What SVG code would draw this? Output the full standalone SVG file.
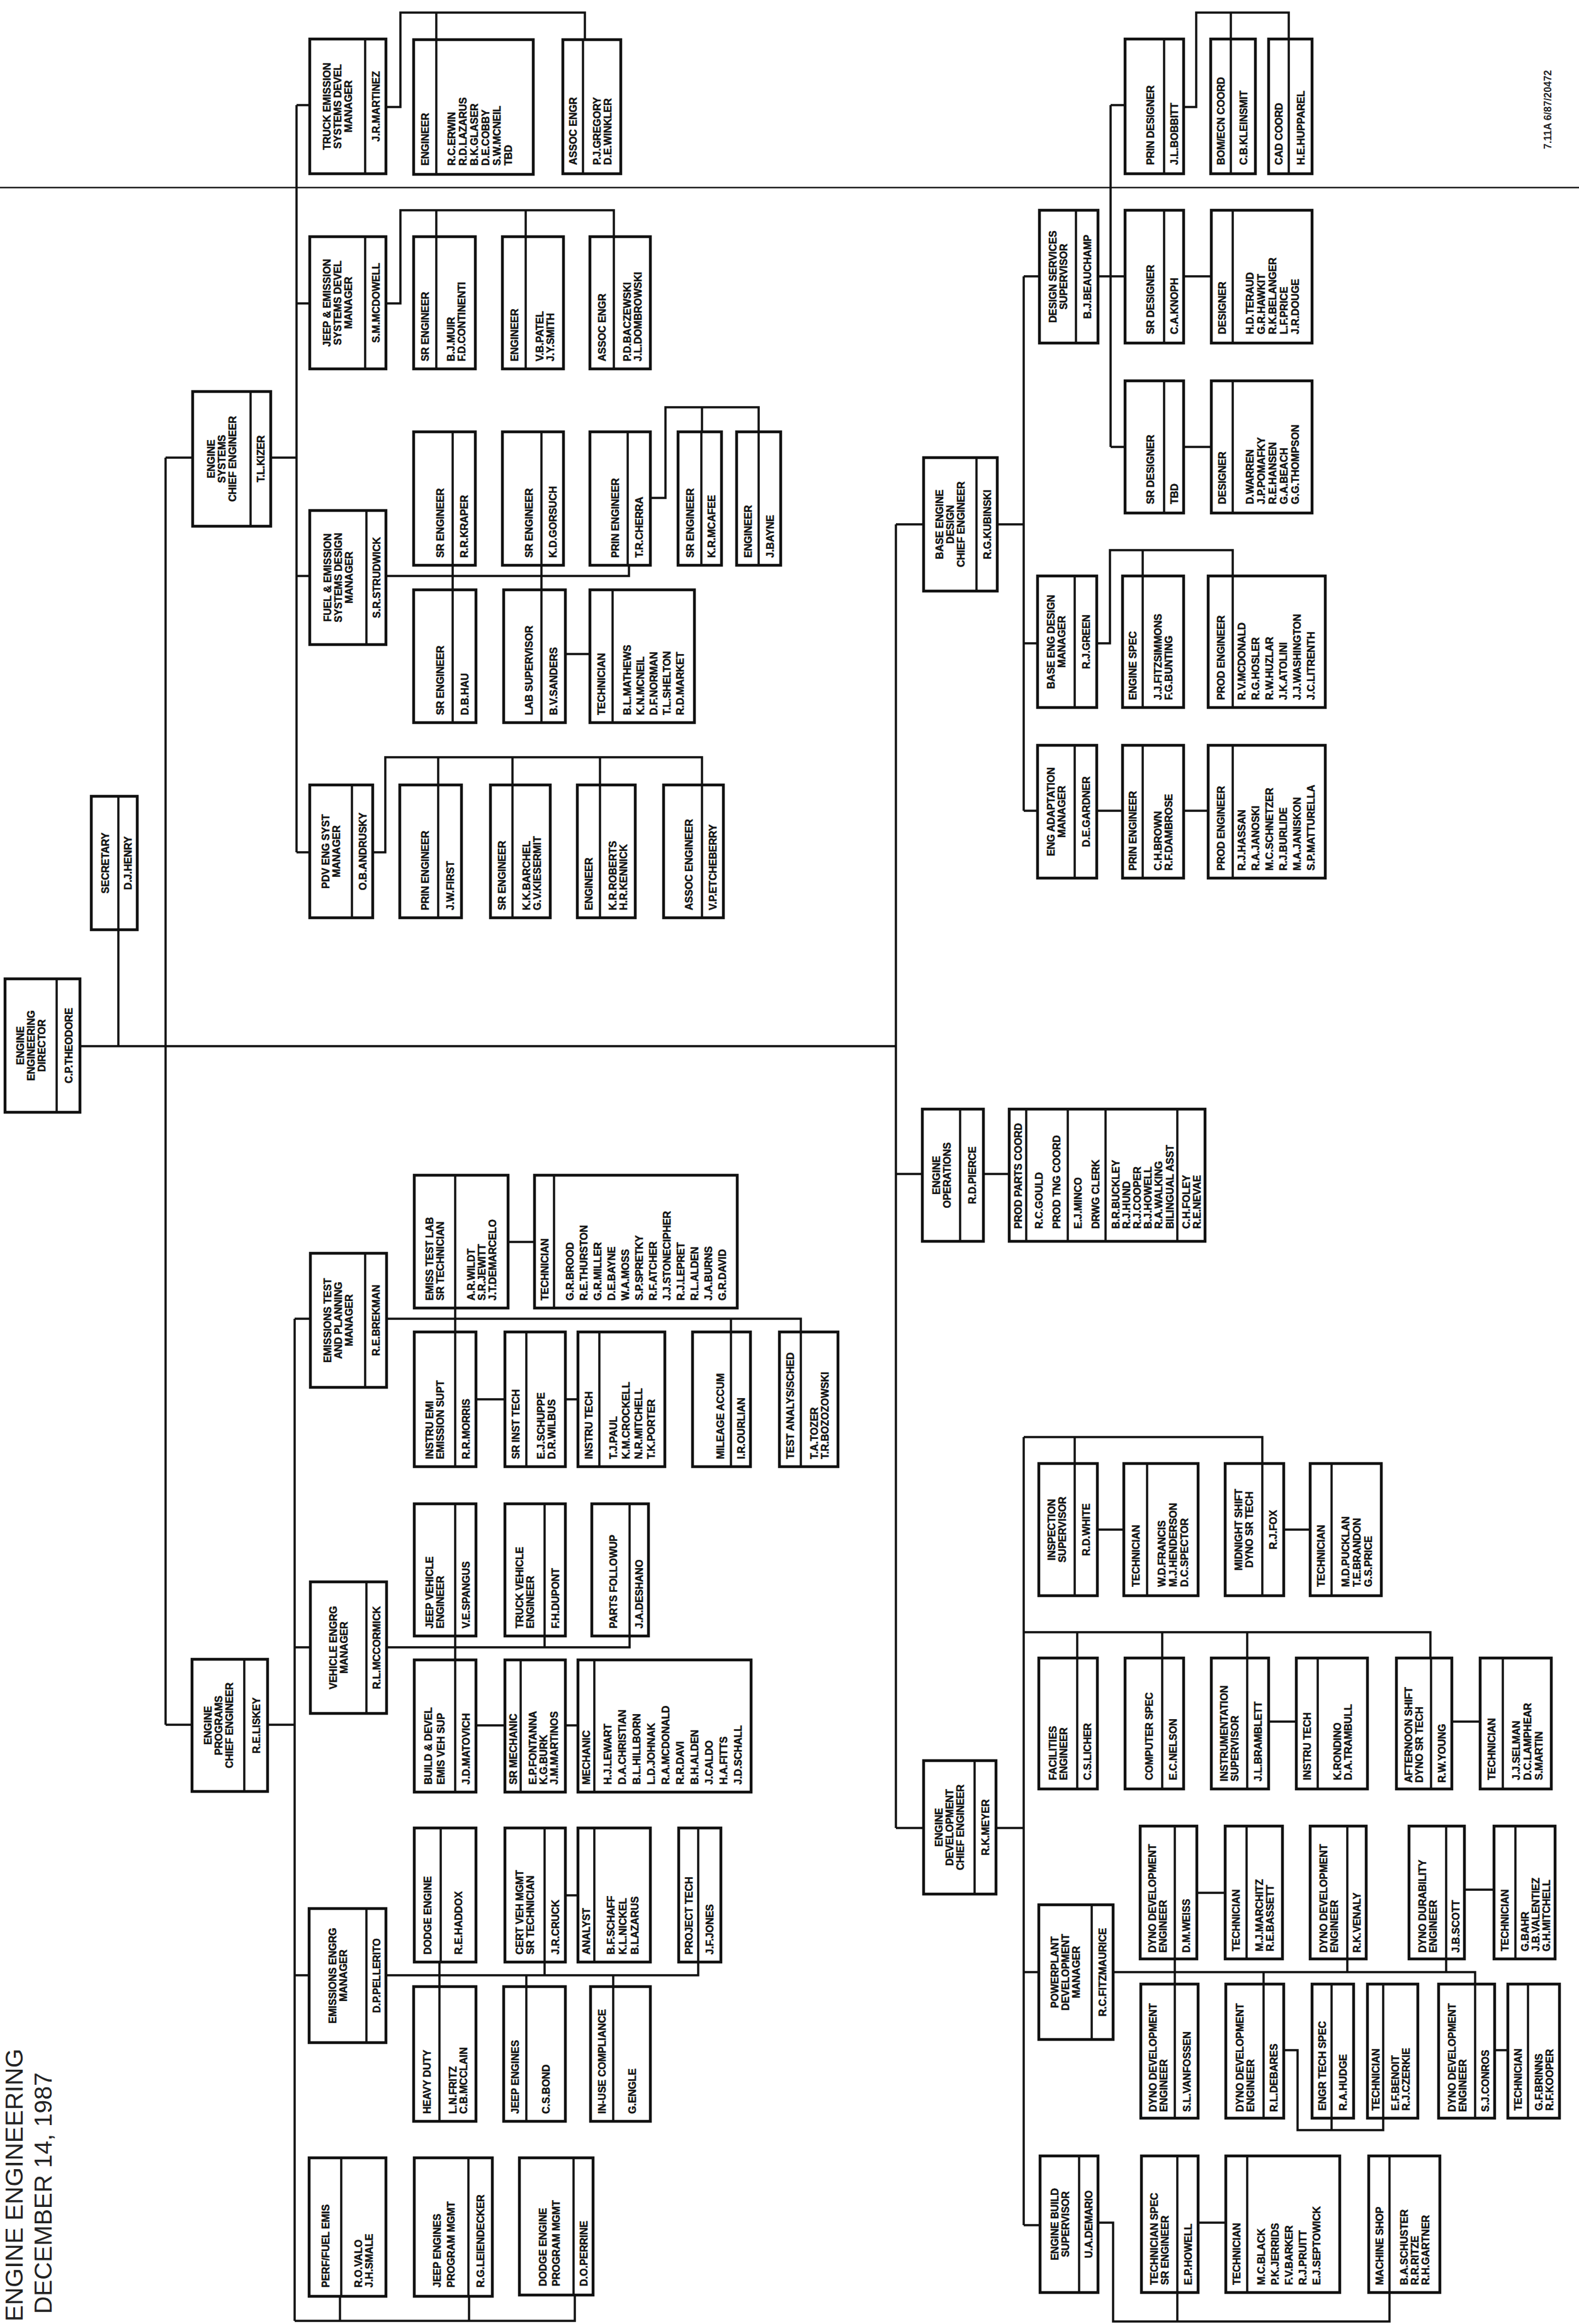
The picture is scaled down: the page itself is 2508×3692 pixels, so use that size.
<svg xmlns="http://www.w3.org/2000/svg" width="2508" height="3692" viewBox="0 0 2508 3692">
<style>
.n rect{fill:none;stroke:#111;stroke-width:4.5}
.n line{stroke:#111;stroke-width:3.5}
.n text{font-family:'Liberation Sans',Arial,sans-serif;font-weight:bold;font-size:16px;fill:#111;stroke:#111;stroke-width:0.5}
.c{text-anchor:middle}
#connectors path{fill:none;stroke:#111;stroke-width:3.5}
.hdr{font-family:'Liberation Sans',Arial,sans-serif;font-size:39px;fill:#222}
.code{font-family:'Liberation Sans',Arial,sans-serif;font-weight:bold;font-size:16px;fill:#222}
</style>
<rect width="2508" height="3692" fill="#fff"/>
<g id="crease"><path d="M0,298H2508" stroke="#222" stroke-width="2.5" fill="none"/></g>
<text class="hdr" transform="translate(36,3688) rotate(-90)">ENGINE ENGINEERING</text>
<text class="hdr" transform="translate(82,3676) rotate(-90)">DECEMBER 14, 1987</text>
<text class="code" transform="translate(2464,237) rotate(-90)">7.11A 6/87/20472</text>

<g id="connectors">
<path d="M127,1662H1423 M188,1477V1662 M263,727V2740 M263,727H306 M263,2740H305"/>
<path d="M430,727H471 M471,167V1354 M471,167H492 M471,482H492 M471,915H492 M471,1354H492"/>
<path d="M613,170H636V20H929V63 M693,20V63"/>
<path d="M613,482H636V334H975V376 M693,334V376 M835,334V376"/>
<path d="M613,915H999V898 M719,898V937 M860,898V937 M898,1039H937"/>
<path d="M1033,791H1057V647H1205V686 M1115,647V686"/>
<path d="M592,1354H612V1203H1115V1247 M696,1203V1247 M814,1203V1247 M953,1203V1247"/>
<path d="M1423,833V2904 M1423,833H1467 M1423,1865H1465 M1423,2904H1467"/>
<path d="M1584,833H1626 M1626,439V1288 M1626,439H1651 M1626,1022H1648 M1626,1288H1648"/>
<path d="M1744,439H1787 M1764,167V710 M1764,167H1787 M1764,710H1787"/>
<path d="M1880,170H1900V20H2047V62 M1955,20V62 M1880,439H1924 M1880,710H1924"/>
<path d="M1742,1022H1763V874H1958V915 M1815,874V915 M1742,1288H1783 M1880,1288H1919"/>
<path d="M1562,1865H1603"/>
<path d="M1582,2904H1626 M1626,2283V3535 M1626,2283H2005V2325 M1707,2283V2325"/>
<path d="M1626,2593H2272V2634 M1711,2593V2634 M1846,2593V2634 M1981,2593V2634"/>
<path d="M1626,3133H1650 M1626,3535H1652"/>
<path d="M1743,2430H1785 M2039,2430H2081 M2015,2735H2059 M2306,2735H2351"/>
<path d="M1768,3133H2343V3152 M1866,3112V3152 M2140,3112V3133 M2297,3112V3133 M2007,3133V3152"/>
<path d="M1901,3007H1946 M2326,3002H2373"/>
<path d="M2039,3257H2061V3384H2197V3365 M2115,3384V3365 M2374,3257H2395"/>
<path d="M1744,3531H1768V3688H2207V3642 M1870,3688V3642 M1903,3531H1947"/>
<path d="M425,2740H468 M468,2095V3687 M468,2095H493 M468,2617H493 M468,3138H491 M468,3687H913V3646 M540,3687V3648 M745,3687V3648"/>
<path d="M614,2095H1272V2116 M723,2078V2116 M1161,2095V2116 M807,1973H849 M756,2223H802 M898,2223H918"/>
<path d="M614,2617H1000V2599 M723,2599V2637 M865,2617V2599 M756,2741H802 M898,2741H918"/>
<path d="M613,3138H1109V3117 M698,3117V3156 M865,3138V3117 M836,3138V3156 M974,3138V3156 M898,3011H918"/>
</g>

<g id="director" class="n" transform="translate(8,1767) rotate(-90)"><rect width="212" height="119"/><line x2="212" y1="82" y2="82"/>
<text class="c" x="106" y="30">ENGINE</text><text class="c" x="106" y="47">ENGINEERING</text><text class="c" x="106" y="64">DIRECTOR</text><text class="c" x="106" y="106.5">C.P.THEODORE</text></g>
<g id="secretary" class="n" transform="translate(145,1477) rotate(-90)"><rect width="212" height="73"/><line x2="212" y1="43" y2="43"/>
<text class="c" x="106" y="27.5">SECRETARY</text><text class="c" x="106" y="64">D.J.HENRY</text></g>
<g id="eng-systems" class="n" transform="translate(306,836) rotate(-90)"><rect width="214" height="124"/><line x2="214" y1="92" y2="92"/>
<text class="c" x="107" y="35">ENGINE</text><text class="c" x="107" y="52">SYSTEMS</text><text class="c" x="107" y="69">CHIEF ENGINEER</text><text class="c" x="107" y="114">T.L.KIZER</text></g>
<g id="truck-mgr" class="n" transform="translate(492,276) rotate(-90)"><rect width="214" height="121"/><line x2="214" y1="88" y2="88"/>
<text class="c" x="107" y="33">TRUCK EMISSION</text><text class="c" x="107" y="50">SYSTEMS DEVEL</text><text class="c" x="107" y="67">MANAGER</text><text class="c" x="107" y="110.5">J.R.MARTINEZ</text></g>
<g id="truck-eng" class="n" transform="translate(657,277) rotate(-90)"><rect width="214" height="190"/><line x2="214" y1="36" y2="36"/>
<text x="14" y="24">ENGINEER</text><text x="14" y="66">R.C.ERWIN</text><text x="14" y="84">R.D.LAZARUS</text><text x="14" y="102">B.K.GLASER</text><text x="14" y="120">D.E.COBBY</text><text x="14" y="138">S.W.MCNEIL</text><text x="14" y="156">TBD</text></g>
<g id="truck-assoc" class="n" transform="translate(894,276) rotate(-90)"><rect width="213" height="92"/><line x2="213" y1="32" y2="32"/>
<text x="14" y="22">ASSOC ENGR</text><text x="14" y="59.5">P.J.GREGORY</text><text x="14" y="76.5">D.E.WINKLER</text></g>
<g id="jeep-mgr" class="n" transform="translate(492,586) rotate(-90)"><rect width="210" height="121"/><line x2="210" y1="88" y2="88"/>
<text class="c" x="105" y="33">JEEP &amp; EMISSION</text><text class="c" x="105" y="50">SYSTEMS DEVEL</text><text class="c" x="105" y="67">MANAGER</text><text class="c" x="105" y="110.5">S.M.MCDOWELL</text></g>
<g id="jeep-sreng" class="n" transform="translate(657,586) rotate(-90)"><rect width="210" height="98"/><line x2="210" y1="36" y2="36"/>
<text x="12" y="24">SR ENGINEER</text><text x="12" y="64.5">B.J.MUIR</text><text x="12" y="81.5">F.D.CONTINENTI</text></g>
<g id="jeep-eng" class="n" transform="translate(798,586) rotate(-90)"><rect width="210" height="97"/><line x2="210" y1="37" y2="37"/>
<text x="12" y="24.5">ENGINEER</text><text x="12" y="64.5">V.B.PATEL</text><text x="12" y="81.5">J.Y.SMITH</text></g>
<g id="jeep-assoc" class="n" transform="translate(937,586) rotate(-90)"><rect width="210" height="96"/><line x2="210" y1="38" y2="38"/>
<text x="12" y="25">ASSOC ENGR</text><text x="12" y="64.5">P.D.BACZEWSKI</text><text x="12" y="81.5">J.L.DOMBROWSKI</text></g>
<g id="fuel-sr1" class="n" transform="translate(657,898) rotate(-90)"><rect width="212" height="98"/><line x2="212" y1="62" y2="62"/>
<text x="12" y="48">SR ENGINEER</text><text x="12" y="86">R.R.KRAPER</text></g>
<g id="fuel-sr2" class="n" transform="translate(798,898) rotate(-90)"><rect width="212" height="97"/><line x2="212" y1="62" y2="62"/>
<text x="12" y="48">SR ENGINEER</text><text x="12" y="85.5">K.D.GORSUCH</text></g>
<g id="fuel-prin" class="n" transform="translate(937,898) rotate(-90)"><rect width="212" height="96"/><line x2="212" y1="60" y2="60"/>
<text x="12" y="46">PRIN ENGINEER</text><text x="12" y="84">T.R.CHERRA</text></g>
<g id="fuel-sr3" class="n" transform="translate(1077,898) rotate(-90)"><rect width="212" height="69"/><line x2="212" y1="37" y2="37"/>
<text x="12" y="24.5">SR ENGINEER</text><text x="12" y="59">K.R.MCAFEE</text></g>
<g id="fuel-eng" class="n" transform="translate(1170,898) rotate(-90)"><rect width="212" height="70"/><line x2="212" y1="35" y2="35"/>
<text x="12" y="23.5">ENGINEER</text><text x="12" y="58.5">J.BAYNE</text></g>
<g id="fuel-mgr" class="n" transform="translate(492,1024) rotate(-90)"><rect width="213" height="121"/><line x2="213" y1="90" y2="90"/>
<text class="c" x="106.5" y="34">FUEL &amp; EMISSION</text><text class="c" x="106.5" y="51">SYSTEMS DESIGN</text><text class="c" x="106.5" y="68">MANAGER</text><text class="c" x="106.5" y="111.5">S.R.STRUDWICK</text></g>
<g id="fuel-sr4" class="n" transform="translate(657,1148) rotate(-90)"><rect width="211" height="99"/><line x2="211" y1="62" y2="62"/>
<text x="12" y="48">SR ENGINEER</text><text x="12" y="86.5">D.B.HAU</text></g>
<g id="fuel-lab" class="n" transform="translate(800,1148) rotate(-90)"><rect width="211" height="98"/><line x2="211" y1="60" y2="60"/>
<text x="12" y="46">LAB SUPERVISOR</text><text x="12" y="85">B.V.SANDERS</text></g>
<g id="fuel-tech" class="n" transform="translate(937,1148) rotate(-90)"><rect width="211" height="166"/><line x2="211" y1="36" y2="36"/>
<text x="12" y="24">TECHNICIAN</text><text x="12" y="65">B.L.MATHEWS</text><text x="12" y="86">K.N.MCNEIL</text><text x="12" y="107">D.F.NORMAN</text><text x="12" y="128">T.L.SHELTON</text><text x="12" y="149">R.D.MARKET</text></g>
<g id="pdv-mgr" class="n" transform="translate(492,1458) rotate(-90)"><rect width="211" height="100"/><line x2="211" y1="67" y2="67"/>
<text class="c" x="105.5" y="31">PDV ENG SYST</text><text class="c" x="105.5" y="48">MANAGER</text><text class="c" x="105.5" y="89.5">O.B.ANDRUSKY</text></g>
<g id="pdv-prin" class="n" transform="translate(635,1458) rotate(-90)"><rect width="211" height="98"/><line x2="211" y1="61" y2="61"/>
<text x="12" y="46">PRIN ENGINEER</text><text x="12" y="85.5">J.W.FIRST</text></g>
<g id="pdv-sr" class="n" transform="translate(779,1458) rotate(-90)"><rect width="211" height="95"/><line x2="211" y1="35" y2="35"/>
<text x="12" y="23.5">SR ENGINEER</text><text x="12" y="62.5">K.K.BARCHEL</text><text x="12" y="79.5">G.V.KIESERMIT</text></g>
<g id="pdv-eng" class="n" transform="translate(917,1458) rotate(-90)"><rect width="211" height="92"/><line x2="211" y1="36" y2="36"/>
<text x="12" y="24">ENGINEER</text><text x="12" y="61.5">K.R.ROBERTS</text><text x="12" y="78.5">H.R.KENNICK</text></g>
<g id="pdv-assoc" class="n" transform="translate(1054,1458) rotate(-90)"><rect width="211" height="95"/><line x2="211" y1="61" y2="61"/>
<text x="12" y="46">ASSOC ENGINEER</text><text x="12" y="84">V.P.ETCHEBERRY</text></g>

<g id="bed-chief" class="n" transform="translate(1467,939) rotate(-90)"><rect width="212" height="117"/><line x2="212" y1="84" y2="84"/>
<text class="c" x="106" y="31">BASE ENGINE</text><text class="c" x="106" y="48">DESIGN</text><text class="c" x="106" y="65">CHIEF ENGINEER</text><text class="c" x="106" y="106.5">R.G.KUBINSKI</text></g>
<g id="ds-sup" class="n" transform="translate(1651,545) rotate(-90)"><rect width="211" height="93"/><line x2="211" y1="58" y2="58"/>
<text class="c" x="105.5" y="26.5">DESIGN SERVICES</text><text class="c" x="105.5" y="43.5">SUPERVISOR</text><text class="c" x="105.5" y="81.5">B.J.BEAUCHAMP</text></g>
<g id="prin-designer" class="n" transform="translate(1787,276) rotate(-90)"><rect width="214" height="93"/><line x2="214" y1="62" y2="62"/>
<text x="14" y="46">PRIN DESIGNER</text><text x="14" y="83.5">J.L.BOBBITT</text></g>
<g id="bom-coord" class="n" transform="translate(1923,276) rotate(-90)"><rect width="214" height="71"/><line x2="214" y1="32" y2="32"/>
<text x="14" y="22">BOM/ECN COORD</text><text x="14" y="57.5">C.B.KLEINSMIT</text></g>
<g id="cad-coord" class="n" transform="translate(2015,276) rotate(-90)"><rect width="214" height="69"/><line x2="214" y1="32" y2="32"/>
<text x="14" y="22">CAD COORD</text><text x="14" y="56.5">H.E.HUPPAREL</text></g>
<g id="sr-designer1" class="n" transform="translate(1787,545) rotate(-90)"><rect width="211" height="93"/><line x2="211" y1="62" y2="62"/>
<text x="14" y="46">SR DESIGNER</text><text x="14" y="83.5">C.A.KNOPH</text></g>
<g id="designers1" class="n" transform="translate(1924,545) rotate(-90)"><rect width="211" height="160"/><line x2="211" y1="34" y2="34"/>
<text x="14" y="23">DESIGNER</text><text x="14" y="67">H.D.TERAUD</text><text x="14" y="85">G.R.HAWKIT</text><text x="14" y="103">R.K.BELANGER</text><text x="14" y="121">L.F.PRICE</text><text x="14" y="139">J.R.DOUGE</text></g>
<g id="sr-designer2" class="n" transform="translate(1787,815) rotate(-90)"><rect width="210" height="93"/><line x2="210" y1="62" y2="62"/>
<text x="14" y="46">SR DESIGNER</text><text x="14" y="83.5">TBD</text></g>
<g id="designers2" class="n" transform="translate(1924,815) rotate(-90)"><rect width="210" height="160"/><line x2="210" y1="34" y2="34"/>
<text x="14" y="23">DESIGNER</text><text x="14" y="67">D.WARREN</text><text x="14" y="85">J.P.POMAFKY</text><text x="14" y="103">R.E.HANSEN</text><text x="14" y="121">G.A.BEACH</text><text x="14" y="139">G.G.THOMPSON</text></g>
<g id="bed-mgr" class="n" transform="translate(1648,1124) rotate(-90)"><rect width="209" height="94"/><line x2="209" y1="59" y2="59"/>
<text class="c" x="104.5" y="27">BASE ENG DESIGN</text><text class="c" x="104.5" y="44">MANAGER</text><text class="c" x="104.5" y="82.5">R.J.GREEN</text></g>
<g id="eng-spec" class="n" transform="translate(1783,1124) rotate(-90)"><rect width="209" height="97"/><line x2="209" y1="32" y2="32"/>
<text x="12" y="22">ENGINE SPEC</text><text x="12" y="62">J.J.FITZSIMMONS</text><text x="12" y="79">F.G.BUNTING</text></g>
<g id="prod-eng1" class="n" transform="translate(1919,1124) rotate(-90)"><rect width="209" height="186"/><line x2="209" y1="39" y2="39"/>
<text x="12" y="25.5">PROD ENGINEER</text><text x="12" y="59">R.V.MCDONALD</text><text x="12" y="81">R.G.HOSLER</text><text x="12" y="103">R.W.HUZLAR</text><text x="12" y="125">J.K.ATOLINI</text><text x="12" y="147">J.J.WASHINGTON</text><text x="12" y="169">J.C.LITRENTH</text></g>
<g id="ea-mgr" class="n" transform="translate(1648,1395) rotate(-90)"><rect width="211" height="94"/><line x2="211" y1="59" y2="59"/>
<text class="c" x="105.5" y="27">ENG ADAPTATION</text><text class="c" x="105.5" y="44">MANAGER</text><text class="c" x="105.5" y="82.5">D.E.GARDNER</text></g>
<g id="prin-eng-ea" class="n" transform="translate(1783,1395) rotate(-90)"><rect width="211" height="97"/><line x2="211" y1="32" y2="32"/>
<text x="12" y="22">PRIN ENGINEER</text><text x="12" y="62">C.H.BROWN</text><text x="12" y="79">R.F.DAMBROSE</text></g>
<g id="prod-eng2" class="n" transform="translate(1919,1395) rotate(-90)"><rect width="211" height="186"/><line x2="211" y1="39" y2="39"/>
<text x="12" y="25.5">PROD ENGINEER</text><text x="12" y="59">R.J.HASSAN</text><text x="12" y="81">R.A.JANOSKI</text><text x="12" y="103">M.C.SCHNETZER</text><text x="12" y="125">R.J.BURLIDE</text><text x="12" y="147">M.A.JANISKON</text><text x="12" y="169">S.P.MATTURELLA</text></g>

<g id="eng-ops" class="n" transform="translate(1465,1972) rotate(-90)"><rect width="210" height="97"/><line x2="210" y1="60" y2="60"/>
<text class="c" x="105" y="27.5">ENGINE</text><text class="c" x="105" y="44.5">OPERATIONS</text><text class="c" x="105" y="84.5">R.D.PIERCE</text></g>
<g id="ops-staff" class="n" transform="translate(1603,1972) rotate(-90)"><rect width="210" height="311"/><line x2="210" y1="27" y2="27"/><line x2="210" y1="93" y2="93"/><line x2="210" y1="153" y2="153"/><line x2="210" y1="267" y2="267"/>
<text x="20" y="20">PROD PARTS COORD</text><text x="20" y="53">R.C.GOULD</text><text x="20" y="81">PROD TNG COORD</text><text x="20" y="115">E.J.MINCO</text><text x="20" y="143">DRWG CLERK</text><text x="20" y="175">B.R.BUCKLEY</text><text x="20" y="192">R.J.HUND</text><text x="20" y="209">R.J.COOPER</text><text x="20" y="226">B.J.HOWELL</text><text x="20" y="243">R.A.WALKING</text><text x="20" y="261">BILINGUAL ASST</text><text x="20" y="287">C.H.FOLEY</text><text x="20" y="304">R.E.NEVAE</text></g>

<g id="eng-dev" class="n" transform="translate(1467,3009) rotate(-90)"><rect width="212" height="115"/><line x2="212" y1="81" y2="81"/>
<text class="c" x="106" y="29.5">ENGINE</text><text class="c" x="106" y="46.5">DEVELOPMENT</text><text class="c" x="106" y="63.5">CHIEF ENGINEER</text><text class="c" x="106" y="104">R.K.MEYER</text></g>
<g id="inspection" class="n" transform="translate(1650,2535) rotate(-90)"><rect width="210" height="93"/><line x2="210" y1="57" y2="57"/>
<text class="c" x="105" y="26">INSPECTION</text><text class="c" x="105" y="43">SUPERVISOR</text><text class="c" x="105" y="81">R.D.WHITE</text></g>
<g id="insp-tech" class="n" transform="translate(1785,2535) rotate(-90)"><rect width="210" height="118"/><line x2="210" y1="37" y2="37"/>
<text x="14" y="24.5">TECHNICIAN</text><text x="14" y="65.5">W.D.FRANCIS</text><text x="14" y="83.5">M.J.HENDERSON</text><text x="14" y="101.5">D.C.SPECTOR</text></g>
<g id="midnight" class="n" transform="translate(1946,2535) rotate(-90)"><rect width="210" height="93"/><line x2="210" y1="59" y2="59"/>
<text class="c" x="105" y="27">MIDNIGHT SHIFT</text><text class="c" x="105" y="44">DYNO SR TECH</text><text class="c" x="105" y="82">R.J.FOX</text></g>
<g id="mid-tech" class="n" transform="translate(2081,2535) rotate(-90)"><rect width="210" height="113"/><line x2="210" y1="34" y2="34"/>
<text x="14" y="23">TECHNICIAN</text><text x="14" y="61.5">M.D.PUCKLAN</text><text x="14" y="79.5">T.E.BRANDON</text><text x="14" y="97.5">G.S.PRICE</text></g>
<g id="facilities" class="n" transform="translate(1650,2842) rotate(-90)"><rect width="208" height="93"/><line x2="208" y1="61" y2="61"/>
<text x="14" y="28">FACILITIES</text><text x="14" y="45">ENGINEER</text><text x="14" y="83">C.S.LICHER</text></g>
<g id="computer" class="n" transform="translate(1787,2842) rotate(-90)"><rect width="208" height="93"/><line x2="208" y1="59" y2="59"/>
<text x="14" y="44">COMPUTER SPEC</text><text x="14" y="82">E.C.NELSON</text></g>
<g id="instrumentation" class="n" transform="translate(1924,2842) rotate(-90)"><rect width="208" height="91"/><line x2="208" y1="57" y2="57"/>
<text x="12" y="26">INSTRUMENTATION</text><text x="12" y="43">SUPERVISOR</text><text x="12" y="80">J.L.BRAMBLETT</text></g>
<g id="instru-tech2" class="n" transform="translate(2059,2842) rotate(-90)"><rect width="208" height="113"/><line x2="208" y1="34" y2="34"/>
<text x="14" y="23">INSTRU TECH</text><text x="14" y="71">K.RONDINO</text><text x="14" y="88">D.A.TRAMBULL</text></g>
<g id="afternoon" class="n" transform="translate(2218,2842) rotate(-90)"><rect width="208" height="88"/><line x2="208" y1="55" y2="55"/>
<text x="10" y="25">AFTERNOON SHIFT</text><text x="10" y="42">DYNO SR TECH</text><text x="10" y="77.5">R.W.YOUNG</text></g>
<g id="aft-tech" class="n" transform="translate(2351,2842) rotate(-90)"><rect width="208" height="113"/><line x2="208" y1="36" y2="36"/>
<text x="14" y="24">TECHNICIAN</text><text x="14" y="62.5">J.J.SELMAN</text><text x="14" y="80.5">D.C.LAMPHEAR</text><text x="14" y="98.5">S.MARTIN</text></g>
<g id="powerplant" class="n" transform="translate(1650,3240) rotate(-90)"><rect width="214" height="118"/><line x2="214" y1="84" y2="84"/>
<text class="c" x="107" y="31">POWERPLANT</text><text class="c" x="107" y="48">DEVELOPMENT</text><text class="c" x="107" y="65">MANAGER</text><text class="c" x="107" y="107">R.C.FITZMAURICE</text></g>
<g id="dyno-dev1" class="n" transform="translate(1811,3112) rotate(-90)"><rect width="211" height="90"/><line x2="211" y1="55" y2="55"/>
<text x="10" y="25">DYNO DEVELOPMENT</text><text x="10" y="42">ENGINEER</text><text x="10" y="78.5">D.M.WEISS</text></g>
<g id="dyno-dev1-tech" class="n" transform="translate(1946,3112) rotate(-90)"><rect width="211" height="91"/><line x2="211" y1="34" y2="34"/>
<text x="12" y="23">TECHNICIAN</text><text x="12" y="60">M.J.MARCHITZ</text><text x="12" y="77">R.E.BASSETT</text></g>
<g id="dyno-dev2" class="n" transform="translate(2081,3112) rotate(-90)"><rect width="211" height="89"/><line x2="211" y1="59" y2="59"/>
<text x="10" y="27">DYNO DEVELOPMENT</text><text x="10" y="44">ENGINEER</text><text x="10" y="80">R.K.VENALY</text></g>
<g id="durability" class="n" transform="translate(2238,3112) rotate(-90)"><rect width="211" height="88"/><line x2="211" y1="59" y2="59"/>
<text x="10" y="27">DYNO DURABILITY</text><text x="10" y="44">ENGINEER</text><text x="10" y="79.5">J.B.SCOTT</text></g>
<g id="dur-tech" class="n" transform="translate(2373,3112) rotate(-90)"><rect width="211" height="97"/><line x2="211" y1="34" y2="34"/>
<text x="12" y="23">TECHNICIAN</text><text x="12" y="54.5">G.BAHR</text><text x="12" y="71.5">J.B.VALENTIEZ</text><text x="12" y="88.5">G.H.MITCHELL</text></g>
<g id="dyno-dev3" class="n" transform="translate(1812,3365) rotate(-90)"><rect width="213" height="91"/><line x2="213" y1="54" y2="54"/>
<text x="10" y="24.5">DYNO DEVELOPMENT</text><text x="10" y="41.5">ENGINEER</text><text x="10" y="78.5">S.L.VANFOSSEN</text></g>
<g id="dyno-dev4" class="n" transform="translate(1947,3365) rotate(-90)"><rect width="213" height="92"/><line x2="213" y1="60" y2="60"/>
<text x="10" y="27.5">DYNO DEVELOPMENT</text><text x="10" y="44.5">ENGINEER</text><text x="10" y="82">R.L.DEBARES</text></g>
<g id="engr-tech-spec" class="n" transform="translate(2084,3365) rotate(-90)"><rect width="213" height="66"/><line x2="213" y1="31" y2="31"/>
<text x="12" y="21.5">ENGR TECH SPEC</text><text x="12" y="54.5">R.A.HUDGE</text></g>
<g id="debares-tech" class="n" transform="translate(2172,3365) rotate(-90)"><rect width="213" height="80"/><line x2="213" y1="25" y2="25"/>
<text x="12" y="18.5">TECHNICIAN</text><text x="12" y="50">E.F.BENOIT</text><text x="12" y="67">R.J.CZERKIE</text></g>
<g id="dyno-dev5" class="n" transform="translate(2285,3365) rotate(-90)"><rect width="213" height="89"/><line x2="213" y1="58" y2="58"/>
<text x="10" y="26.5">DYNO DEVELOPMENT</text><text x="10" y="43.5">ENGINEER</text><text x="10" y="79.5">S.J.CONROS</text></g>
<g id="conros-tech" class="n" transform="translate(2395,3365) rotate(-90)"><rect width="213" height="82"/><line x2="213" y1="32" y2="32"/>
<text x="12" y="22">TECHNICIAN</text><text x="12" y="54.5">G.F.BRINNS</text><text x="12" y="71.5">R.F.KOOPER</text></g>
<g id="engine-build" class="n" transform="translate(1652,3642) rotate(-90)"><rect width="217" height="92"/><line x2="217" y1="62" y2="62"/>
<text class="c" x="108.5" y="28.5">ENGINE BUILD</text><text class="c" x="108.5" y="45.5">SUPERVISOR</text><text class="c" x="108.5" y="83">U.A.DEMARIO</text></g>
<g id="tech-spec" class="n" transform="translate(1813,3642) rotate(-90)"><rect width="217" height="90"/><line x2="217" y1="57" y2="57"/>
<text x="12" y="26">TECHNICIAN SPEC</text><text x="12" y="43">SR ENGINEER</text><text x="12" y="79.5">E.P.HOWELL</text></g>
<g id="build-tech" class="n" transform="translate(1947,3642) rotate(-90)"><rect width="217" height="181"/><line x2="217" y1="34" y2="34"/>
<text x="12" y="23">TECHNICIAN</text><text x="12" y="62">M.C.BLACK</text><text x="12" y="84">P.K.JERRIDS</text><text x="12" y="106">F.V.BARKER</text><text x="12" y="128">R.J.PRUITT</text><text x="12" y="150">E.J.SEPTOWICK</text></g>
<g id="machine-shop" class="n" transform="translate(2174,3642) rotate(-90)"><rect width="217" height="113"/><line x2="217" y1="33" y2="33"/>
<text x="12" y="22.5">MACHINE SHOP</text><text x="12" y="62">B.A.SCHUSTER</text><text x="12" y="79">R.R.RITZE</text><text x="12" y="96">R.H.GARTNER</text></g>

<g id="eng-programs" class="n" transform="translate(305,2846) rotate(-90)"><rect width="210" height="120"/><line x2="210" y1="83" y2="83"/>
<text class="c" x="105" y="30.5">ENGINE</text><text class="c" x="105" y="47.5">PROGRAMS</text><text class="c" x="105" y="64.5">CHIEF ENGINEER</text><text class="c" x="105" y="107.5">R.E.LISKEY</text></g>
<g id="et-mgr" class="n" transform="translate(493,2204) rotate(-90)"><rect width="213" height="121"/><line x2="213" y1="87" y2="87"/>
<text class="c" x="106.5" y="32.5">EMISSIONS TEST</text><text class="c" x="106.5" y="49.5">AND PLANNING</text><text class="c" x="106.5" y="66.5">MANAGER</text><text class="c" x="106.5" y="110">R.E.BREKMAN</text></g>
<g id="et-lab" class="n" transform="translate(658,2078) rotate(-90)"><rect width="211" height="149"/><line x2="211" y1="65" y2="65"/>
<text x="12" y="30">EMISS TEST LAB</text><text x="12" y="47">SR TECHNICIAN</text><text x="12" y="96">A.R.WILDT</text><text x="12" y="113">S.R.JEWITT</text><text x="12" y="130">J.T.DEMARCELO</text></g>
<g id="et-tech" class="n" transform="translate(849,2078) rotate(-90)"><rect width="211" height="322"/><line x2="211" y1="31" y2="31"/>
<text x="12" y="21.5">TECHNICIAN</text><text x="12" y="61.5">G.R.BROOD</text><text x="12" y="83.5">R.E.THURSTON</text><text x="12" y="105.5">G.R.MILLER</text><text x="12" y="127.5">D.E.BAYNE</text><text x="12" y="149.5">W.A.MOSS</text><text x="12" y="171.5">S.P.SPRETKY</text><text x="12" y="193.5">R.F.ATCHER</text><text x="12" y="215.5">J.J.STONECIPHER</text><text x="12" y="237.5">R.J.LEPRET</text><text x="12" y="259.5">R.L.ALDEN</text><text x="12" y="281.5">J.A.BURNS</text><text x="12" y="303.5">G.R.DAVID</text></g>
<g id="instru-emi" class="n" transform="translate(658,2330) rotate(-90)"><rect width="214" height="98"/><line x2="214" y1="65" y2="65"/>
<text x="12" y="30">INSTRU EMI</text><text x="12" y="47">EMISSION SUPT</text><text x="12" y="87.5">R.R.MORRIS</text></g>
<g id="sr-inst-tech" class="n" transform="translate(802,2330) rotate(-90)"><rect width="214" height="96"/><line x2="214" y1="34" y2="34"/>
<text x="12" y="23">SR INST TECH</text><text x="12" y="62.5">E.J.SCHUPPE</text><text x="12" y="79.5">D.R.WILBUS</text></g>
<g id="instru-tech1" class="n" transform="translate(918,2330) rotate(-90)"><rect width="214" height="138"/><line x2="214" y1="34" y2="34"/>
<text x="12" y="23">INSTRU TECH</text><text x="12" y="62">T.J.PAUL</text><text x="12" y="82">K.M.CROCKELL</text><text x="12" y="102">N.R.MITCHELL</text><text x="12" y="122">T.K.PORTER</text></g>
<g id="mileage" class="n" transform="translate(1100,2330) rotate(-90)"><rect width="214" height="92"/><line x2="214" y1="61" y2="61"/>
<text x="12" y="50">MILEAGE ACCUM</text><text x="12" y="82.5">I.R.OURLIAN</text></g>
<g id="test-analysis" class="n" transform="translate(1238,2330) rotate(-90)"><rect width="214" height="93"/><line x2="214" y1="34" y2="34"/>
<text x="12" y="23">TEST ANALYS/SCHED</text><text x="12" y="61">T.A.TOZER</text><text x="12" y="78">T.R.BOZOZOWSKI</text></g>
<g id="veh-mgr" class="n" transform="translate(493,2722) rotate(-90)"><rect width="209" height="121"/><line x2="209" y1="89" y2="89"/>
<text class="c" x="104.5" y="42">VEHICLE ENGRG</text><text class="c" x="104.5" y="59">MANAGER</text><text class="c" x="104.5" y="111">R.L.MCCORMICK</text></g>
<g id="jeep-veh" class="n" transform="translate(658,2599) rotate(-90)"><rect width="210" height="98"/><line x2="210" y1="65" y2="65"/>
<text x="12" y="30">JEEP VEHICLE</text><text x="12" y="47">ENGINEER</text><text x="12" y="87.5">V.E.SPANGUS</text></g>
<g id="truck-veh" class="n" transform="translate(802,2599) rotate(-90)"><rect width="210" height="96"/><line x2="210" y1="63" y2="63"/>
<text x="12" y="29">TRUCK VEHICLE</text><text x="12" y="46">ENGINEER</text><text x="12" y="85.5">F.H.DUPONT</text></g>
<g id="parts-follow" class="n" transform="translate(940,2599) rotate(-90)"><rect width="210" height="90"/><line x2="210" y1="60" y2="60"/>
<text x="12" y="40">PARTS FOLLOWUP</text><text x="12" y="81">J.A.DESHANO</text></g>
<g id="build-devel" class="n" transform="translate(658,2847) rotate(-90)"><rect width="210" height="98"/><line x2="210" y1="65" y2="65"/>
<text x="12" y="28">BUILD &amp; DEVEL</text><text x="12" y="48">EMIS VEH SUP</text><text x="12" y="87.5">J.D.MATOVICH</text></g>
<g id="sr-mech" class="n" transform="translate(802,2847) rotate(-90)"><rect width="210" height="96"/><line x2="210" y1="25" y2="25"/>
<text x="12" y="18.5">SR MECHANIC</text><text x="12" y="49.5">E.P.FONTANNA</text><text x="12" y="66.5">K.G.BURK</text><text x="12" y="83.5">J.M.MARTINOS</text></g>
<g id="mechanic" class="n" transform="translate(918,2847) rotate(-90)"><rect width="210" height="275"/><line x2="210" y1="26" y2="26"/>
<text x="12" y="19">MECHANIC</text><text x="12" y="53">H.J.LEWART</text><text x="12" y="76">D.A.CHRISTIAN</text><text x="12" y="99">B.L.HILLBORN</text><text x="12" y="122">L.D.JOHNAK</text><text x="12" y="145">R.A.MCDONALD</text><text x="12" y="168">R.R.DAVI</text><text x="12" y="191">B.H.ALDEN</text><text x="12" y="214">J.CALDO</text><text x="12" y="237">H.A.FITTS</text><text x="12" y="260">J.D.SCHALL</text></g>
<g id="ee-mgr" class="n" transform="translate(491,3245) rotate(-90)"><rect width="213" height="122"/><line x2="213" y1="91" y2="91"/>
<text class="c" x="106.5" y="43">EMISSIONS ENGRG</text><text class="c" x="106.5" y="60">MANAGER</text><text class="c" x="106.5" y="112.5">D.P.PELLERITO</text></g>
<g id="dodge-eng" class="n" transform="translate(658,3117) rotate(-90)"><rect width="213" height="98"/><line x2="213" y1="42" y2="42"/>
<text x="12" y="27">DODGE ENGINE</text><text x="12" y="76">R.E.HADDOX</text></g>
<g id="cert-veh" class="n" transform="translate(802,3117) rotate(-90)"><rect width="213" height="96"/><line x2="213" y1="63" y2="63"/>
<text x="12" y="29">CERT VEH MGMT</text><text x="12" y="46">SR TECHNICIAN</text><text x="12" y="85.5">J.R.CRUCK</text></g>
<g id="analyst" class="n" transform="translate(918,3117) rotate(-90)"><rect width="213" height="115"/><line x2="213" y1="26" y2="26"/>
<text x="12" y="19">ANALYST</text><text x="12" y="57.5">B.F.SCHAFF</text><text x="12" y="76.5">K.L.NICKEL</text><text x="12" y="95.5">B.LAZARUS</text></g>
<g id="project-tech" class="n" transform="translate(1078,3117) rotate(-90)"><rect width="213" height="67"/><line x2="213" y1="31" y2="31"/>
<text x="12" y="21.5">PROJECT TECH</text><text x="12" y="55">J.F.JONES</text></g>
<g id="heavy-duty" class="n" transform="translate(657,3370) rotate(-90)"><rect width="214" height="99"/><line x2="214" y1="41" y2="41"/>
<text x="12" y="26.5">HEAVY DUTY</text><text x="12" y="67.5">L.N.FRITZ</text><text x="12" y="84.5">C.B.MCCLAIN</text></g>
<g id="jeep-engines" class="n" transform="translate(800,3370) rotate(-90)"><rect width="214" height="98"/><line x2="214" y1="36" y2="36"/>
<text x="12" y="24">JEEP ENGINES</text><text x="12" y="73">C.S.BOND</text></g>
<g id="in-use" class="n" transform="translate(938,3370) rotate(-90)"><rect width="214" height="95"/><line x2="214" y1="36" y2="36"/>
<text x="12" y="24">IN-USE COMPLIANCE</text><text x="12" y="71.5">G.ENGLE</text></g>
<g id="perf-fuel" class="n" transform="translate(491,3648) rotate(-90)"><rect width="220" height="122"/><line x2="220" y1="51" y2="51"/>
<text x="14" y="31.5">PERF/FUEL EMIS</text><text x="14" y="84">R.O.VALO</text><text x="14" y="101">J.H.SMALE</text></g>
<g id="jeep-prog" class="n" transform="translate(658,3648) rotate(-90)"><rect width="220" height="124"/><line x2="220" y1="86" y2="86"/>
<text x="14" y="42">JEEP ENGINES</text><text x="14" y="64">PROGRAM MGMT</text><text x="14" y="111">R.G.LEIENDECKER</text></g>
<g id="dodge-prog" class="n" transform="translate(825,3646) rotate(-90)"><rect width="218" height="117"/><line x2="218" y1="86" y2="86"/>
<text x="14" y="43">DODGE ENGINE</text><text x="14" y="64">PROGRAM MGMT</text><text x="14" y="107.5">D.O.PERRINE</text></g>
</svg>
